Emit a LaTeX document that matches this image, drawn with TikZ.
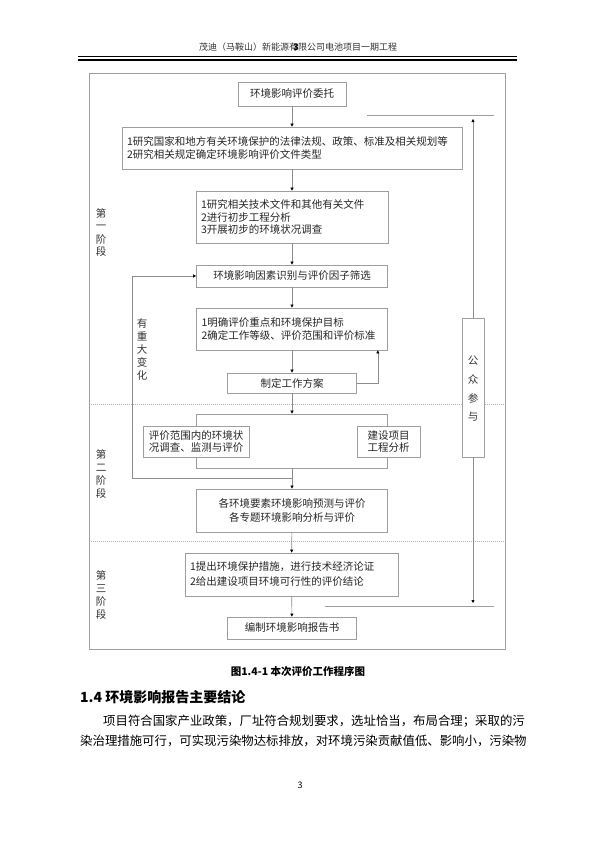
\documentclass[tikz,border=0pt]{standalone}
\usepackage{fontspec}
\setmainfont{Noto Sans CJK SC}
\usetikzlibrary{arrows.meta,positioning}

\newcommand{\boxfont}{\fontsize{10.5pt}{12.5pt}\selectfont}

\begin{document}
\begin{tikzpicture}[x=1pt, y=-1pt,
    box/.style={draw=black!38, line width=0.7pt, fill=white, text=black!85, font=\boxfont, align=center, inner sep=0pt},
    lbox/.style={box, align=left, inner xsep=5pt},
    vtxt/.style={font=\fontsize{10.5pt}{13pt}\selectfont, text=black!80, align=center, inner sep=0pt},
    arr/.style={draw=black!45, line width=0.6pt, -{Triangle[length=3pt, width=3pt, color=black]}},
    ln/.style={draw=black!38, line width=0.7pt},
    sep/.style={draw=black!30, line width=0.4pt, dash pattern=on 1pt off 1pt}
]
\useasboundingbox[fill=white] (0,0) rectangle (595,841);

% page header
\node[font=\fontsize{9pt}{9pt}\selectfont, text=black!80] (hdr) at (298,47) {茂迪（马鞍山）新能源有限公司电池项目一期工程};
\node[font=\fontsize{9pt}{9pt}\selectfont\bfseries] (hdrnum) at (296,47) {3};
\draw[black, line width=0.5pt] (78,56) -- (517,56);
\draw[black, line width=2.5pt] (78,59.8) -- (517,59.8);

% frame and stages
\draw[ln] (89,73) rectangle (505.5,649);
\draw[sep] (89,404) -- (505.5,404);
\draw[sep] (89,541) -- (505.5,541);
\node[vtxt] (st1) at (101,232.5) {第\\一\\阶\\段};
\node[vtxt] (st2) at (101,474) {第\\二\\阶\\段};
\node[vtxt] (st3) at (101,595) {第\\三\\阶\\段};

\node[box, minimum width=108pt, minimum height=24pt] (n1) at (292,94) {环境影响评价委托};
\node[lbox, text width=330pt, minimum height=42pt] (n2) at (292,148) {1研究国家和地方有关环境保护的法律法规、政策、标准及相关规划等\\2研究相关规定确定环境影响评价文件类型};
\node[lbox, text width=182pt, minimum height=52pt] (n3) at (292,217) {1研究相关技术文件和其他有关文件\\2进行初步工程分析\\3开展初步的环境状况调查};
\node[box, minimum width=191pt, minimum height=22pt] (n4) at (292,276) {环境影响因素识别与评价因子筛选};
\node[lbox, text width=181pt, minimum height=42pt] (n5) at (292,329) {1明确评价重点和环境保护目标\\[1pt]2确定工作等级、评价范围和评价标准};
\node[box, minimum width=129pt, minimum height=20pt] (n6) at (292,383) {制定工作方案};
\node[box, minimum width=191pt, minimum height=54pt] (n7) at (292,441) {};
\node[box, minimum width=106pt, minimum height=31pt] (n7a) at (196,441.5) {评价范围内的环境状\\况调查、监测与评价};
\node[box, minimum width=63pt, minimum height=31pt] (n7b) at (388.5,441.5) {建设项目\\工程分析};
\node[box, minimum width=191pt, minimum height=43pt] (n8) at (292,510.5) {各环境要素环境影响预测与评价\\[2pt]各专题环境影响分析与评价};
\node[lbox, text width=203pt, minimum height=43pt] (n9) at (291.5,574.5) {1提出环境保护措施，进行技术经济论证\\[2.5pt]2给出建设项目环境可行性的评价结论};
\node[box, minimum width=129pt, minimum height=22pt] (n10) at (292,628) {编制环境影响报告书};

\node[box, minimum width=22pt, minimum height=139pt] (pub) at (473,387.5) {};
\node[vtxt, font=\fontsize{10.5pt}{18.7pt}\selectfont] (publbl) at (473,389) {公\\众\\参\\与};
\node[vtxt] (chg) at (142,349.5) {有\\重\\大\\变\\化};

\draw[arr] (n1) -- (n2);
\draw[arr] (n2) -- (n3);
\draw[arr] (n3) -- (n4);
\draw[arr] (n4) -- (n5);
\draw[arr] (n5) -- (n6);
\draw[arr] (n6) -- (n7);
\draw[arr] (n6.east) -| ([xshift=-10pt]n5.south east);
\draw[arr] (n7) -- (n8);
\draw[arr] (n8) -- (n9);
\draw[arr] (n9) -- (n10);

\coordinate (jn) at (292,478);
\coordinate (fbk) at (132,478);
\draw[arr] (jn) -- (fbk) |- (n4.west);

\coordinate (ptop) at (473,119);
\coordinate (pbot) at (473,603);
\coordinate (tl) at (367,115);
\coordinate (tr) at (494,115);
\coordinate (bl) at (325,606);
\coordinate (br) at (494,606);
\draw[arr] (pub.north) -- (ptop);
\draw[arr] (pub.south) -- (pbot);
\draw[ln] (tl) -- (tr);
\draw[ln] (bl) -- (br);

% caption and text below
\node[font=\fontsize{10.5pt}{12pt}\selectfont\bfseries] (cap) at (298,672) {图1.4-1 本次评价工作程序图};
\node[anchor=west, inner sep=0pt, font=\fontsize{14pt}{16pt}\selectfont\bfseries] (sec) at (80,697) {1.4 环境影响报告主要结论};
\node[anchor=west, inner sep=0pt, font=\fontsize{12.4pt}{20pt}\selectfont] (par1) at (103,721) {项目符合国家产业政策，厂址符合规划要求，选址恰当，布局合理；采取的污};
\node[anchor=west, inner sep=0pt, font=\fontsize{12.4pt}{20pt}\selectfont] (par2) at (80,741) {染治理措施可行，可实现污染物达标排放，对环境污染贡献值低、影响小，污染物};
\node[font=\fontsize{9pt}{9pt}\selectfont] (pgno) at (300,785) {3};
\end{tikzpicture}
\end{document}
